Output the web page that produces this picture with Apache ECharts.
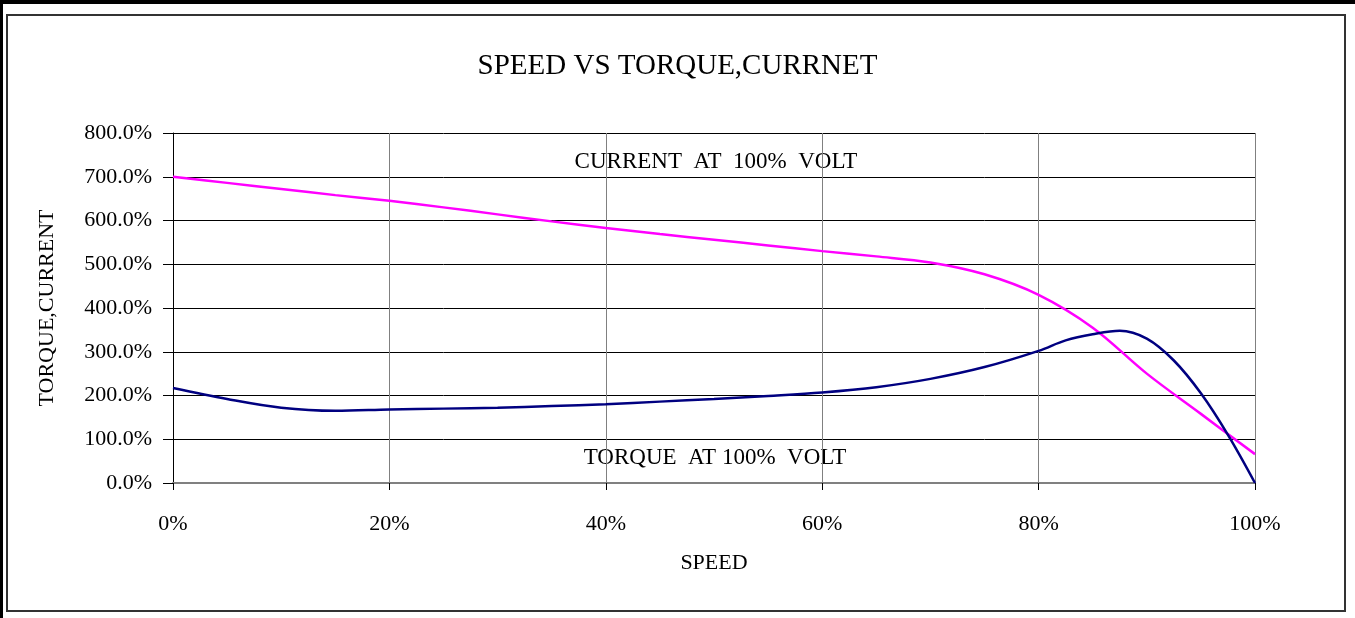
<!DOCTYPE html>
<html>
<head>
<meta charset="utf-8">
<script src="https://cdn.jsdelivr.net/npm/echarts@6/dist/echarts.min.js"></script>
<style>
html,body{margin:0;padding:0;background:#fff;}
#chart{width:1355px;height:618px;}
</style>
</head>
<body>
<div id="chart"></div>
<script>
// Speed (%) sample points
const speedCurrent = [0, 5, 10, 15, 20, 25, 30, 35, 40, 45, 50, 55, 60, 65, 70, 75, 80, 85, 90, 95, 100];
const currentValues = [700, 686, 672, 658, 645, 630, 614, 598, 583, 569, 556, 543, 530, 518, 504, 477, 430, 355, 250, 158, 66];

const speedTorque = [0, 5, 10, 15, 20, 25, 30, 35, 40, 45, 50, 55, 60, 65, 70, 75, 80, 82.5, 85, 87.5, 90, 92.5, 95, 97.5, 100];
const torqueValues = [217, 192, 172, 165, 168, 170, 172, 176, 180, 186, 192, 199, 207, 219, 238, 265, 302, 326, 340, 348, 330, 280, 205, 110, 0];

const xTicks = [0, 20, 40, 60, 80, 100];
const yTicks = [0, 100, 200, 300, 400, 500, 600, 700, 800];

const titleText = 'SPEED VS TORQUE,CURRNET';
const yAxisName = 'TORQUE,CURRENT';
const xAxisName = 'SPEED';
const currentLabel = 'CURRENT  AT  100%  VOLT';
const torqueLabel = 'TORQUE  AT 100%  VOLT';

const FONT = '"Liberation Serif", "DejaVu Serif", serif';

const chart = echarts.init(document.getElementById('chart'), null, {renderer: 'canvas'});
const pair = (xs, ys) => xs.map((x, i) => [x, ys[i]]);

chart.setOption({
  backgroundColor: '#ffffff',
  animation: false,
  title: {
    text: titleText,
    left: 'center',
    top: 47,
    textStyle: {fontFamily: FONT, fontSize: 29, fontWeight: 'normal', color: '#000'}
  },
  grid: {left: 173, right: 100, top: 133, bottom: 135, containLabel: false},
  xAxis: {
    type: 'value',
    min: 0, max: 100, interval: 20,
    name: xAxisName,
    nameLocation: 'middle',
    nameGap: 69,
    nameTextStyle: {fontFamily: FONT, fontSize: 22, color: '#000'},
    axisLine: {show: true, lineStyle: {color: '#808080', width: 2}},
    axisTick: {show: true, length: 7, lineStyle: {color: '#000', width: 1}},
    axisLabel: {
      fontFamily: FONT, fontSize: 22, color: '#000', margin: 30,
      formatter: v => v + '%'
    },
    splitLine: {show: true, lineStyle: {color: '#808080', width: 1}}
  },
  yAxis: {
    type: 'value',
    min: 0, max: 800, interval: 100,
    name: yAxisName,
    nameLocation: 'middle',
    nameGap: 115,
    nameRotate: 90,
    nameTextStyle: {fontFamily: FONT, fontSize: 22, color: '#000'},
    axisLine: {show: true, lineStyle: {color: '#000', width: 1}},
    axisTick: {show: true, length: 10, lineStyle: {color: '#000', width: 1}},
    axisLabel: {
      fontFamily: FONT, fontSize: 22, color: '#000', margin: 21,
      formatter: v => v.toFixed(1) + '%'
    },
    splitLine: {show: true, lineStyle: {color: '#000', width: 1}}
  },
  series: [
    {
      name: 'CURRENT',
      type: 'line',
      data: pair(speedCurrent, currentValues),
      smooth: 0.35,
      showSymbol: false,
      lineStyle: {color: '#FF00FF', width: 2.5},
      itemStyle: {color: '#FF00FF'},
      z: 3
    },
    {
      name: 'TORQUE',
      type: 'line',
      data: pair(speedTorque, torqueValues),
      smooth: 0.35,
      showSymbol: false,
      lineStyle: {color: '#000080', width: 2.5},
      itemStyle: {color: '#000080'},
      z: 4
    }
  ],
  graphic: [
    {type: 'rect', shape: {x: 0, y: 0, width: 1355, height: 4}, style: {fill: '#000'}, silent: true},
    {type: 'rect', shape: {x: 0, y: 0, width: 3, height: 618}, style: {fill: '#000'}, silent: true},
    {type: 'rect', shape: {x: 7, y: 15, width: 1338, height: 596}, style: {fill: 'none', stroke: '#333', lineWidth: 2}, silent: true},
    {type: 'text', x: 716, y: 162, silent: true,
     style: {text: currentLabel, align: 'center', verticalAlign: 'middle', font: '23px ' + FONT, fill: '#000'}},
    {type: 'text', x: 715, y: 458, silent: true,
     style: {text: torqueLabel, align: 'center', verticalAlign: 'middle', font: '23px ' + FONT, fill: '#000'}}
  ]
});
</script>
</body>
</html>
